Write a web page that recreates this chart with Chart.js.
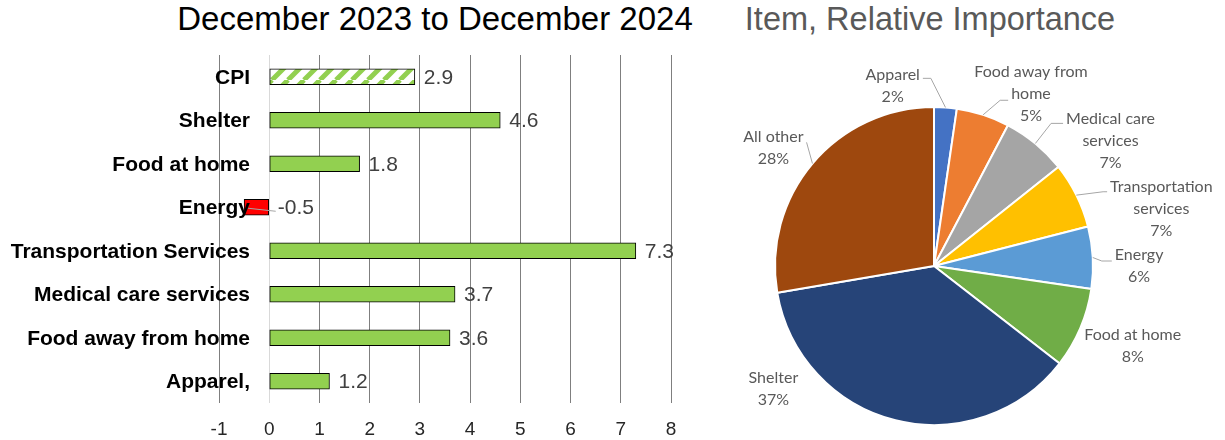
<!DOCTYPE html>
<html>
<head>
<meta charset="utf-8">
<script src="https://cdn.jsdelivr.net/npm/chart.js@4/dist/chart.umd.min.js"></script>
<style>
  body { margin: 0; background: #fff; width: 1225px; height: 440px; overflow: hidden; position: relative; }
  .title { position: absolute; top: 1px; font: 33px "Liberation Sans", Arial, sans-serif; line-height: 36px; text-align: center; white-space: nowrap; }
  #barTitle { left: 0; width: 870px; color: #000; }
  #pieTitle { left: 630px; width: 600px; color: #595959; font-size: 32.5px; }
  #barWrap { position: absolute; left: 0; top: 0; width: 710px; height: 440px; }
  #pieWrap { position: absolute; left: 710px; top: 0; width: 515px; height: 440px; }
</style>
</head>
<body>
<div class="title" id="barTitle">December 2023 to December 2024</div>
<div class="title" id="pieTitle">Item, Relative Importance</div>
<div id="barWrap"><canvas id="barChart"></canvas></div>
<div id="pieWrap"><canvas id="pieChart"></canvas></div>
<script>
// 12-month percent change, Dec 2023 - Dec 2024
const barCategories = ['CPI', 'Shelter', 'Food at home', 'Energy', 'Transportation Services', 'Medical care services', 'Food away from home', 'Apparel,'];
const cpiChange = [2.9, 4.6, 1.8, -0.5, 7.3, 3.7, 3.6, 1.2];
const xTickMin = -1;
const xTickMax = 8;

// relative importance (percent of CPI)
const pieNames = [['Apparel'], ['Food away from', 'home'], ['Medical care', 'services'], ['Transportation', 'services'], ['Energy'], ['Food at home'], ['Shelter'], ['All other']];
const importance = [2.3, 5.4, 6.6, 6.7, 6.3, 8.2, 36.8, 27.7];
const pieColors = ['#4472C4', '#ED7D31', '#A5A5A5', '#FFC000', '#5B9BD5', '#70AD47', '#264478', '#9E480E'];

const GREEN = '#92D050';
const SANS = '"Liberation Sans", Arial, sans-serif';

function hatch() {
  const c = document.createElement('canvas');
  c.width = 16; c.height = 16;
  const g = c.getContext('2d');
  g.fillStyle = '#fff';
  g.fillRect(0, 0, 16, 16);
  g.strokeStyle = GREEN;
  g.lineWidth = 5;
  g.beginPath();
  [-16, 0, 16].forEach((x0) => { g.moveTo(x0, 16); g.lineTo(x0 + 16, 0); });
  g.stroke();
  return g.createPattern(c, 'repeat');
}

const barFills = barCategories.map((c, i) => (c === 'CPI' ? hatch() : cpiChange[i] < 0 ? '#FF0000' : GREEN));

// value labels + category names (names sit over the -1..0 band like the original)
const barText = {
  id: 'barText',
  afterDatasetsDraw(chart) {
    const { ctx, chartArea } = chart;
    const yScale = chart.scales.y;
    ctx.save();
    ctx.textBaseline = 'middle';

    ctx.font = 'bold 21px ' + SANS;
    ctx.fillStyle = '#000';
    ctx.textAlign = 'right';
    barCategories.forEach((c, i) => ctx.fillText(c, chartArea.left + 31, yScale.getPixelForValue(i) + 1));

    ctx.font = '21px ' + SANS;
    ctx.fillStyle = '#404040';
    ctx.textAlign = 'left';
    ctx.strokeStyle = '#a6a6a6';
    ctx.lineWidth = 1;
    chart.getDatasetMeta(0).data.forEach((bar, i) => {
      const { x, y, base } = bar.getProps(['x', 'y', 'base'], true);
      const lx = Math.max(x, base) + 9;
      if (cpiChange[i] < 0) {
        ctx.beginPath();
        ctx.moveTo(x + 4, y + 1);
        ctx.lineTo(lx - 2, y + 4);
        ctx.stroke();
      }
      ctx.fillText(cpiChange[i].toFixed(1), lx, y + 1);
    });
    ctx.restore();
  }
};

new Chart(document.getElementById('barChart'), {
  type: 'bar',
  data: {
    labels: barCategories,
    datasets: [{ data: cpiChange, backgroundColor: barFills, borderColor: '#000', borderWidth: 1, barThickness: 16, borderSkipped: false }]
  },
  options: {
    indexAxis: 'y',
    responsive: true,
    maintainAspectRatio: false,
    animation: false,
    layout: { padding: { top: 55, right: 39, left: 0, bottom: 0 } },
    plugins: { legend: { display: false }, tooltip: { enabled: false } },
    scales: {
      x: {
        min: xTickMin,
        max: xTickMax,
        afterFit: (s) => { s.height = 37; },
        border: { display: false },
        grid: { color: (c) => (c.tick && c.tick.value === 0 ? '#d9d9d9' : '#7f7f7f'), drawTicks: false },
        ticks: { stepSize: 1, padding: 15, color: '#262626', font: { family: SANS, size: 19 } }
      },
      y: {
        afterFit: (s) => { s.width = 219; },
        border: { display: false },
        grid: { display: false, drawTicks: false },
        ticks: { display: false }
      }
    }
  },
  plugins: [barText]
});

const LH = 22;
const pieLabels = {
  id: 'pieLabels',
  afterDatasetsDraw(chart, args, opts) {
    const { ctx } = chart;
    const total = importance.reduce((a, b) => a + b, 0);
    ctx.save();
    ctx.font = '16px Lato, "Noto Sans", sans-serif';
    ctx.fillStyle = '#595959';
    ctx.strokeStyle = '#a6a6a6';
    ctx.lineWidth = 1;
    ctx.textAlign = 'center';
    ctx.textBaseline = 'middle';
    chart.getDatasetMeta(0).data.forEach((arc, i) => {
      const { x, y, startAngle, endAngle, outerRadius } = arc.getProps(['x', 'y', 'startAngle', 'endAngle', 'outerRadius'], true);
      const [fx, fy] = opts.offsets[i];
      const cx = x + fx * outerRadius;
      const cy = y + fy * outerRadius;
      const lines = [...pieNames[i], Math.round((importance[i] / total) * 100) + '%'];
      const top = cy - ((lines.length - 1) * LH) / 2;
      lines.forEach((t, k) => ctx.fillText(t, cx, top + k * LH));
      const lead = opts.leaders[i];
      if (lead) {
        const mid = (startAngle + endAngle) / 2;
        const ex = x + Math.cos(mid) * outerRadius;
        const ey = y + Math.sin(mid) * outerRadius;
        const side = cx > ex ? -1 : 1;
        const w = ctx.measureText(lines[lead.line]).width;
        const lx = cx + side * (w / 2 + 3);
        const ly = top + lead.line * LH + lead.dy;
        ctx.beginPath();
        ctx.moveTo(ex, ey);
        ctx.lineTo(lx + side * lead.tail, ly);
        ctx.lineTo(lx, ly);
        ctx.stroke();
      }
    });
    ctx.restore();
  }
};

new Chart(document.getElementById('pieChart'), {
  type: 'pie',
  data: {
    labels: pieNames,
    datasets: [{ data: importance, backgroundColor: pieColors, borderColor: '#fff', borderWidth: 2 }]
  },
  options: {
    responsive: true,
    maintainAspectRatio: false,
    animation: false,
    layout: { padding: { left: 64, right: 131, top: 106, bottom: 14 } },
    plugins: {
      legend: { display: false },
      tooltip: { enabled: false },
      pieLabels: {
        offsets: [[-0.26, -1.13], [0.61, -1.08], [1.11, -0.79], [1.43, -0.36], [1.29, 0], [1.25, 0.5], [-1.01, 0.77], [-1.01, -0.74]],
        leaders: [{ line: 0, tail: 8, dy: 3 }, { line: 1, tail: 8, dy: 6 }, { line: 0, tail: 12, dy: 5 }, { line: 0, tail: 4, dy: 5 }, { line: 0, tail: 10, dy: 6 }, null, null, { line: 0, tail: 0, dy: 5 }]
      }
    }
  },
  plugins: [pieLabels]
});
</script>
</body>
</html>
